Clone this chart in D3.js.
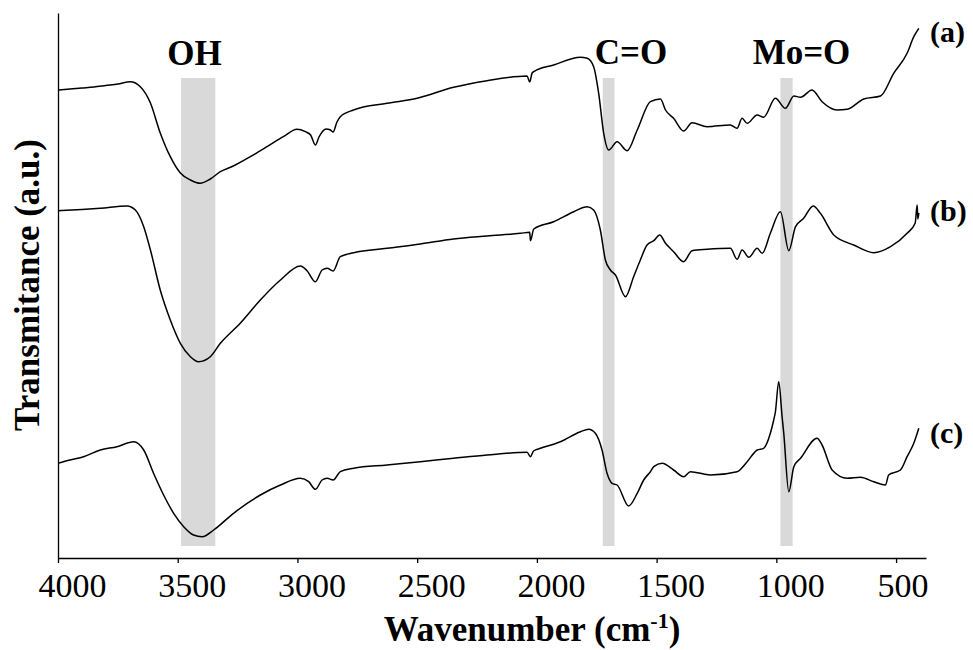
<!DOCTYPE html>
<html><head><meta charset="utf-8">
<script src="https://cdn.jsdelivr.net/npm/d3@7"></script>
<style>body{margin:0;background:#fff}svg{display:block}</style>
</head><body>
<svg id="chart" width="973" height="650"></svg>
<script>
// x tick labels (wavenumber, cm-1)
const xTicks = [4000, 3500, 3000, 2500, 2000, 1500, 1000, 500];
// highlighted absorption bands [from, to] in cm-1 and label anchor
const bandNames = ["OH", "C=O", "Mo=O"];
const bandRanges = [[3486, 3343], [1725, 1676], [983, 932]];
const bandLabelAt = [3430, 1607, 895];
const seriesNames = ["(a)", "(b)", "(c)"];
// spectra: [wavenumber, transmittance (a.u.)]
const spectrumA = [[4000,468],[3950,469],[3900,470],[3850,471],[3800,472.5],[3750,474],[3698,476.3],[3656,471.3],[3614,455],[3573,425],[3531,401.3],[3489,385],[3447,378],[3406,374.7],[3364,379],[3322,386.3],[3268,392],[3197,401.3],[3127,411.3],[3059,421.3],[3002,428.7],[2967,426.3],[2945,423],[2925,413],[2910,421],[2880,429],[2862,428],[2851,426],[2835,436],[2821,441.3],[2766,448],[2626,454.7],[2500,459.7],[2348,470.7],[2208,477.3],[2041,482],[2030,476],[2020,485],[2013,486.3],[1930,493],[1818,500.7],[1790,499.7],[1763,491.3],[1742,464.7],[1721,424.7],[1700,408],[1665,416.3],[1623,407.3],[1581,428],[1526,456.3],[1484,459],[1463,448],[1429,439.7],[1387,427],[1352,435.3],[1289,431.3],[1192,433],[1164,429.7],[1143,439.7],[1122,434.7],[1080,443],[1053,440.7],[1004,459.7],[962,449.7],[927,462],[899,460.7],[851,468],[809,456.3],[746,448],[704,448.7],[635,459],[565,462],[510,484.7],[454,504.7],[426,521.3],[405,529.7]];
const spectrumB = [[4000,347.3],[3900,348.5],[3823,349.7],[3712,352],[3677,348],[3642,331.3],[3614,308],[3573,268],[3531,238],[3489,214.7],[3447,201.3],[3413,196.3],[3364,201.3],[3322,214.7],[3239,234.7],[3155,258],[3071,278],[2988,292],[2960,287.3],[2925,276.3],[2897,288],[2876,289.7],[2851,287],[2821,301.3],[2765,305.3],[2626,309.7],[2487,314],[2348,319],[2208,322],[2069,324.7],[2030,325.7],[2027,317.3],[2013,329],[1930,336.3],[1846,346.3],[1790,351.3],[1763,348],[1735,328],[1714,298],[1693,288],[1672,283],[1630,261.3],[1596,281.3],[1568,298],[1540,313],[1512,317.3],[1487,323],[1463,314.7],[1429,306.3],[1387,296.3],[1352,307.3],[1289,308.7],[1192,309.7],[1164,298.7],[1143,308],[1115,300.7],[1080,309.7],[1059,304.7],[1025,324.7],[983,346.3],[948,307.3],[920,331.3],[886,339.7],[846,352],[816,344.7],[760,323],[677,313],[593,305.3],[523,311.3],[454,324.7],[420,335],[412,353],[409,339],[405,345]];
const spectrumC = [[4000,94.7],[3950,98],[3893,101.3],[3823,108],[3754,111.3],[3684,116.3],[3642,108],[3601,84.7],[3559,63],[3517,44.7],[3475,31.3],[3434,23],[3398,21.3],[3350,28],[3267,44.7],[3155,63],[3071,73],[2988,79.7],[2953,76.3],[2925,68.7],[2897,78],[2876,79.7],[2851,78],[2821,86.3],[2765,89.7],[2626,93],[2487,96.3],[2348,99.7],[2208,103],[2041,105.7],[2027,101.3],[2014,107],[1985,109.7],[1902,116.3],[1818,126.3],[1784,128.7],[1756,124.7],[1728,108],[1707,84.7],[1686,74.7],[1665,73],[1617,52],[1581,64.7],[1554,78],[1526,86.3],[1512,91.3],[1477,94.7],[1429,88],[1387,81.3],[1359,86.3],[1275,83],[1164,86.3],[1122,96.3],[1080,108],[1053,109.7],[1025,124.7],[1011,138],[1004,146],[990,176.3],[976,141.3],[969,124.7],[948,66.3],[927,91.3],[899,99.7],[830,119.7],[809,113],[767,88],[704,79.7],[649,80.7],[593,76.3],[544,73],[531,83],[482,88],[454,101.3],[426,114.7],[405,129.7]];
const spectra = [spectrumA, spectrumB, spectrumC];

const svg = d3.select("#chart");
const serif = "'Liberation Serif','Times New Roman',serif";
const x = d3.scaleLinear().domain([4000, 375]).range([58, 926]);
const y = d3.scaleLinear().domain([0, 545]).range([558, 13]);

// bands
const bandTop = 78, bandBottom = 546;
svg.append("g").selectAll("rect").data(bandRanges).join("rect")
  .attr("x", d => x(d[0])).attr("width", d => x(d[1]) - x(d[0]))
  .attr("y", bandTop).attr("height", bandBottom - bandTop)
  .attr("fill", "#d9d9d9");

svg.append("g").selectAll("text").data(bandNames).join("text")
  .attr("x", (d, i) => x(bandLabelAt[i])).attr("y", (d, i) => i === 0 ? 65 : 63.5)
  .attr("text-anchor", "middle").attr("font-family", serif)
  .attr("font-weight", "bold").attr("font-size", 35).text(d => d);

// axes
const xAxis = svg.append("g").attr("transform", "translate(0,558)")
  .call(d3.axisBottom(x).tickValues(xTicks).tickSize(5).tickSizeOuter(0).tickFormat(d3.format("d")));
xAxis.select(".domain").attr("stroke", "#000").attr("stroke-width", 1.3);
xAxis.selectAll(".tick line").attr("stroke", "#000").attr("stroke-width", 1.3);
xAxis.selectAll(".tick text").attr("font-family", serif).attr("font-size", 34)
  .attr("fill", "#000").attr("y", 39).attr("dy", 0)
  .attr("dx", d => d === 500 ? 6.5 : 14);

const yAxis = svg.append("g").attr("transform", "translate(58,0)")
  .call(d3.axisLeft(y).tickValues([]).tickSizeOuter(0));
yAxis.select(".domain").attr("stroke", "#000").attr("stroke-width", 1.3);

// spectra
const line = d3.line().x(d => x(d[0])).y(d => y(d[1])).curve(d3.curveMonotoneX);
svg.append("g").selectAll("path").data(spectra).join("path")
  .attr("d", line).attr("fill", "none").attr("stroke", "#000")
  .attr("stroke-width", 1.5).attr("stroke-linejoin", "round");

// series labels
const labelBaselines = [42, 221, 443];
svg.append("g").selectAll("text").data(seriesNames).join("text")
  .attr("x", 930).attr("y", (d, i) => labelBaselines[i])
  .attr("font-family", serif).attr("font-weight", "bold").attr("font-size", 30)
  .text(d => d);

// axis titles
const xt = svg.append("text").attr("x", 532).attr("y", 641).attr("text-anchor", "middle")
  .attr("font-family", serif).attr("font-weight", "bold").attr("font-size", 35);
xt.append("tspan").text("Wavenumber (cm");
xt.append("tspan").attr("font-size", 22).attr("dy", -13).text("-1");
xt.append("tspan").attr("dy", 13).text(")");

svg.append("text").attr("transform", "translate(39,285) rotate(-90)")
  .attr("text-anchor", "middle").attr("font-family", serif)
  .attr("font-weight", "bold").attr("font-size", 35).text("Transmitance (a.u.)");
</script>
</body></html>
